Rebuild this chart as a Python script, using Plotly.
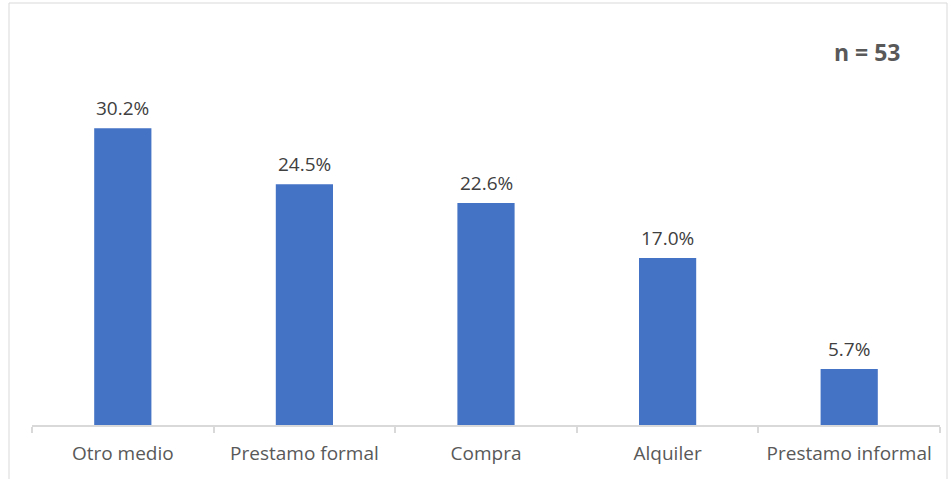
import plotly.graph_objects as go

categories = ["Otro medio", "Prestamo formal", "Compra", "Alquiler", "Prestamo informal"]
values = [30.2, 24.5, 22.6, 17.0, 5.7]
labels = [f"{v:.1f}%" for v in values]

W, H = 951, 479
L, R, T, B = 32, 11, 32, 54
pw, ph = W - L - R, H - T - B
FONT = "Open Sans, Lato, sans-serif"

def px_x(x):
    return (x - L) / pw

def px_y(y):
    return (H - B - y) / ph

fig = go.Figure(go.Bar(
    x=categories, y=values,
    marker=dict(color="#4472C4", line=dict(width=0)),
    cliponaxis=False, width=0.315, hoverinfo="skip",
))

annotations = [dict(x=c, y=v, text=t, xref="x", yref="y", showarrow=False,
                    yanchor="bottom", xanchor="center", yshift=5,
                    font=dict(family=FONT, size=19, color="#404040"))
               for c, v, t in zip(categories, values, labels)]
annotations.append(dict(text="<b>n = 53</b>", x=px_x(867), y=px_y(52), xref="paper", yref="paper",
                        showarrow=False, xanchor="center", yanchor="middle",
                        font=dict(family=FONT, size=23, color="#595959")))

fig.update_layout(
    width=W, height=H, margin=dict(l=L, r=R, t=T, b=B),
    plot_bgcolor="white", paper_bgcolor="white", showlegend=False,
    xaxis=dict(showline=True, linecolor="#D9D9D9", linewidth=1.5,
               ticks="outside", tickson="boundaries", ticklen=6, tickcolor="#D9D9D9", tickwidth=1.5,
               ticklabelstandoff=10,
               tickfont=dict(family=FONT, size=19, color="#595959"),
               showgrid=False, zeroline=False),
    yaxis=dict(range=[0, 40], visible=False, showgrid=False, zeroline=False),
    annotations=annotations,
    shapes=[dict(type="rect", xref="paper", yref="paper",
                 x0=px_x(9), x1=px_x(947), y0=px_y(482), y1=px_y(3),
                 line=dict(color="#D9D9D9", width=1), fillcolor="rgba(0,0,0,0)", layer="below")],
)

fig.write_html("out.html", config={"displayModeBar": False},
               post_script="document.body.style.margin='0';document.body.style.overflow='hidden';")
